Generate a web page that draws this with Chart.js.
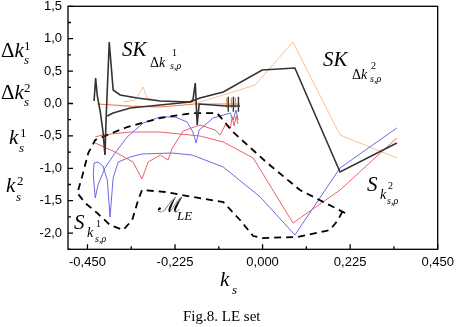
<!DOCTYPE html>
<html>
<head>
<meta charset="utf-8">
<script src="https://cdn.jsdelivr.net/npm/chart.js@4.4.1/dist/chart.umd.min.js"></script>
<style>
html, body { margin: 0; padding: 0; background: #fff; }
#wrap { position: relative; width: 456px; height: 327px; overflow: hidden; }
#wrap canvas { position: absolute; left: 0; top: 0; }
.t { position: absolute; font-family: "Liberation Serif", "Times New Roman", serif; line-height: 1; white-space: nowrap; color: #000; }
.i { font-style: italic; }
.b { font-size: 21px; }
.m { font-size: 14px; }
.s { font-size: 13px; }
.x { font-size: 10px; }
</style>
</head>
<body>
<div id="wrap">
  <canvas id="leSet" width="456" height="327"></canvas>

  <!-- left axis labels -->
  <span class="t b" style="left:1px;top:40px">Δ<i>k</i></span>
  <span class="t s" style="left:24px;top:39px">1</span>
  <span class="t s i" style="left:24px;top:53px">s</span>

  <span class="t b" style="left:1px;top:82px">Δ<i>k</i></span>
  <span class="t s" style="left:24px;top:81px">2</span>
  <span class="t s i" style="left:24px;top:95px">s</span>

  <span class="t b i" style="left:9px;top:127px">k</span>
  <span class="t s" style="left:20px;top:126px">1</span>
  <span class="t s i" style="left:19px;top:141px">s</span>

  <span class="t b i" style="left:6px;top:175px">k</span>
  <span class="t s" style="left:17px;top:174px">2</span>
  <span class="t s i" style="left:16px;top:190px">s</span>

  <!-- x title -->
  <span class="t b i" style="left:220px;top:269px">k</span>
  <span class="t s i" style="left:232px;top:283px">s</span>

  <!-- caption -->
  <span class="t" style="left:183px;top:309px;font-size:15px">Fig.8. LE set</span>

  <!-- annotations inside the plot -->
  <span class="t b i" style="left:122px;top:39px">SK</span>
  <span class="t m" style="left:150px;top:56px">Δ<i>k</i></span>
  <span class="t x" style="left:172px;top:48px">1</span>
  <span class="t x i" style="left:170px;top:61px">s,ρ</span>

  <span class="t b i" style="left:323px;top:49px">SK</span>
  <span class="t m" style="left:352px;top:68px">Δ<i>k</i></span>
  <span class="t x" style="left:371px;top:61px">2</span>
  <span class="t x i" style="left:370px;top:74px">s,ρ</span>

  <span class="t b i" style="left:367px;top:174px">S</span>
  <span class="t m i" style="left:380px;top:188px">k</span>
  <span class="t x" style="left:388px;top:181px">2</span>
  <span class="t x i" style="left:387px;top:196px">s,ρ</span>

  <span class="t b i" style="left:74px;top:212px">S</span>
  <span class="t m i" style="left:87px;top:226px">k</span>
  <span class="t x" style="left:96px;top:219px">1</span>
  <span class="t x i" style="left:95px;top:234px">s,ρ</span>

  <span class="t b" style="left:158px;top:195px">ℳ</span>
  <span class="t s i" style="left:177px;top:209px">LE</span>
</div>

<script>
// axis ticks
var xTicks = [-0.45, -0.225, 0, 0.225, 0.45];
var yTicks = [-2, -1.5, -1, -0.5, 0, 0.5, 1, 1.5];

// SK dk1 curve with the two spikes, ends in the comb
var blackSpikes = [
  [-0.433, 0.039], [-0.429, 0.394], [-0.425, 0.131], [-0.417, -0.131], [-0.410, -0.440],
  [-0.405, -0.795], [-0.402, -0.224], [-0.394, 0.949], [-0.384, 0.208], [-0.366, 0.131],
  [-0.322, 0.085], [-0.263, 0.039], [-0.186, 0.023], [-0.179, 0.054], [-0.173, 0.316],
  [-0.168, -0.332], [-0.163, -0.008], [-0.096, -0.039], [-0.058, -0.039]
];
// lower branch of SK dk1 that goes on to the right part
var blackRight = [
  [-0.399, -0.193], [-0.384, -0.147], [-0.340, -0.069], [-0.263, -0.023], [-0.186, 0.023],
  [-0.161, 0.085], [-0.101, 0.177], [-0.001, 0.517], [0.083, 0.548], [0.199, -1.057],
  [0.345, -0.610]
];
var blackComb = [
  [-0.088, 0.105], [-0.088, -0.127], [-0.088, null],
  [-0.075, 0.105], [-0.075, -0.127], [-0.075, null],
  [-0.062, 0.105], [-0.062, -0.127]
];
// SK dk2
var orangeFlat = [
  [-0.425, -0.008], [-0.340, -0.039], [-0.263, -0.054], [-0.173, -0.008], [-0.096, -0.008],
  [-0.058, -0.008]
];
var orangeComb = [
  [-0.092, 0.09], [-0.092, -0.07], [-0.092, null],
  [-0.080, 0.09], [-0.080, -0.07], [-0.080, null],
  [-0.070, 0.09], [-0.070, -0.07]
];
var orangePeak = [
  [-0.358, 0.023], [-0.327, 0.054], [-0.307, 0.255], [-0.297, 0.085], [-0.263, 0.039],
  [-0.168, 0.008], [-0.101, 0.131], [-0.019, 0.285], [0.078, 0.949], [0.199, -0.486],
  [0.345, -0.841]
];
// k1 / k2 curves
var redDips = [
  [-0.436, -0.594], [-0.379, -0.748], [-0.333, -0.903], [-0.310, -1.165], [-0.294, -0.903],
  [-0.263, -0.795], [-0.243, -0.872], [-0.232, -0.687], [-0.204, -0.424], [-0.161, -0.332],
  [-0.122, -0.409], [-0.109, -0.486], [-0.096, -0.332], [-0.083, -0.378], [-0.078, -0.208],
  [-0.073, -0.347], [-0.068, -0.193], [-0.063, -0.316]
];
var redMain = [
  [-0.430, -0.517], [-0.412, -0.486], [-0.340, -0.440], [-0.263, -0.440], [-0.161, -0.502],
  [-0.101, -0.594], [-0.024, -0.841], [0.078, -1.844], [0.199, -1.335], [0.345, -0.532]
];
var blueUpper = [
  [-0.430, -1.458], [-0.423, -1.258], [-0.405, -0.995], [-0.379, -0.764], [-0.348, -0.517],
  [-0.307, -0.301], [-0.263, -0.208], [-0.225, -0.208], [-0.194, -0.285], [-0.179, -0.440],
  [-0.171, -0.610], [-0.163, -0.409], [-0.127, -0.224], [-0.083, -0.147], [-0.076, -0.255],
  [-0.068, -0.100], [-0.063, -0.255]
];
var blueLower = [
  [-0.430, -1.458], [-0.435, -1.103], [-0.433, -0.918], [-0.423, -0.903], [-0.410, -0.965],
  [-0.399, -1.181], [-0.392, -1.752], [-0.384, -1.150], [-0.371, -0.903], [-0.340, -0.826],
  [-0.310, -0.779], [-0.232, -0.764], [-0.181, -0.795], [-0.101, -0.980], [-0.006, -1.443],
  [0.083, -2.029], [0.199, -0.995], [0.345, -0.378]
];
// LE set boundary
var boundary = [
  [0.212, -1.690], [0.096, -1.335], [0.012, -0.918], [-0.076, -0.440], [-0.117, -0.147],
  [-0.179, -0.147], [-0.263, -0.224], [-0.348, -0.363], [-0.399, -0.486], [-0.430, -0.563],
  [-0.448, -0.764], [-0.464, -1.134], [-0.476, -1.381], [-0.456, -1.535], [-0.425, -1.690],
  [-0.392, -1.875], [-0.358, -1.952], [-0.335, -1.798], [-0.322, -1.535], [-0.310, -1.335],
  [-0.250, -1.366], [-0.179, -1.443], [-0.101, -1.520], [-0.058, -1.798], [-0.024, -2.045],
  [-0.001, -2.076], [0.089, -2.060], [0.173, -1.952], [0.194, -1.798], [0.207, -1.644]
];

function pts(arr) {
  return arr.map(function (p) { return { x: p[0], y: p[1] }; });
}
function line(data, color, width, dash) {
  return {
    data: pts(data),
    showLine: true,
    borderColor: color,
    borderWidth: width,
    borderDash: dash || [],
    pointRadius: 0,
    fill: false,
    tension: 0,
    spanGaps: false
  };
}
function fmt(v, d) {
  return Number(v).toFixed(d).replace('.', ',');
}

var minor = function (list) {
  var out = [];
  for (var i = 0; i < list.length - 1; i++) out.push((list[i] + list[i + 1]) / 2);
  return out;
};

// box and inward ticks
var frameTicks = {
  id: 'frameTicks',
  afterDatasetsDraw: function (chart) {
    var ctx = chart.ctx, a = chart.chartArea, sx = chart.scales.x, sy = chart.scales.y;
    ctx.save();
    ctx.strokeStyle = '#000';
    ctx.lineWidth = 1.3;
    ctx.strokeRect(a.left, a.top, a.right - a.left, a.bottom - a.top);
    ctx.beginPath();
    xTicks.forEach(function (v) {
      var p = sx.getPixelForValue(v);
      ctx.moveTo(p, a.bottom); ctx.lineTo(p, a.bottom - 5);
    });
    minor(xTicks).forEach(function (v) {
      var p = sx.getPixelForValue(v);
      ctx.moveTo(p, a.bottom); ctx.lineTo(p, a.bottom - 3);
    });
    yTicks.forEach(function (v) {
      var p = sy.getPixelForValue(v);
      ctx.moveTo(a.left, p); ctx.lineTo(a.left + 5, p);
    });
    minor(yTicks).concat([-2.25]).forEach(function (v) {
      var p = sy.getPixelForValue(v);
      ctx.moveTo(a.left, p); ctx.lineTo(a.left + 3, p);
    });
    ctx.stroke();
    ctx.restore();
  }
};

var tickFont = { family: '"Liberation Sans", Arial, sans-serif', size: 13 };

new Chart(document.getElementById('leSet').getContext('2d'), {
  type: 'scatter',
  data: {
    datasets: [
      line(blackSpikes, '#333333', 1.6),
      line(blackRight, '#333333', 1.6),
      line(blackComb, '#333333', 1.4),
      line(boundary, '#000000', 1.8, [7, 5]),
      line(orangeFlat, '#ee8040', 1.2),
      line(orangeComb, '#e88a3a', 1.2),
      line(redDips, '#e8606a', 1),
      line(redMain, '#ea6468', 1),
      line(blueUpper, '#6a6ae6', 1),
      line(blueLower, '#6a6ae6', 1),
      line(orangePeak, '#f6c29a', 1)
    ]
  },
  options: {
    responsive: false,
    animation: false,
    devicePixelRatio: 1,
    layout: { padding: { left: 0, top: 6.3, right: 18.3, bottom: 57.7 } },
    plugins: { legend: { display: false }, tooltip: { enabled: false } },
    scales: {
      x: {
        type: 'linear',
        min: -0.5,
        max: 0.45,
        afterBuildTicks: function (s) { s.ticks = xTicks.map(function (v) { return { value: v }; }); },
        afterFit: function (s) { s.height = 20; s.paddingLeft = 0; s.paddingRight = 0; },
        grid: { display: false, drawTicks: false },
        border: { display: false },
        ticks: {
          autoSkip: false, maxRotation: 0, padding: 5, color: '#000', font: tickFont,
          callback: function (v) { return fmt(v, 3); }
        }
      },
      y: {
        type: 'linear',
        min: -2.25,
        max: 1.5,
        afterBuildTicks: function (s) { s.ticks = yTicks.map(function (v) { return { value: v }; }); },
        afterFit: function (s) { s.width = 68; s.paddingTop = 0; s.paddingBottom = 0; },
        grid: { display: false, drawTicks: false },
        border: { display: false },
        ticks: {
          autoSkip: false, padding: 6, color: '#000', font: tickFont,
          callback: function (v) { return fmt(v, 1); }
        }
      }
    }
  },
  plugins: [frameTicks]
});
</script>
</body>
</html>
